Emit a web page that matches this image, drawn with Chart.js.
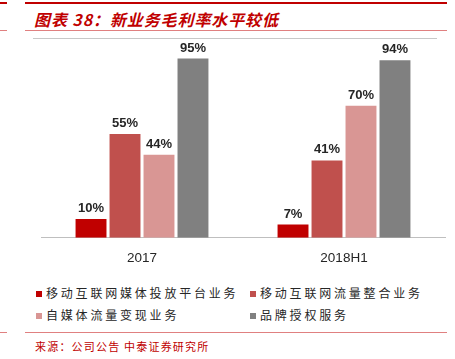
<!DOCTYPE html>
<html><head><meta charset="utf-8">
<script src="https://cdn.jsdelivr.net/npm/chart.js@4/dist/chart.umd.min.js"></script>
<style>
body{margin:0;background:#fff;width:455px;height:359px;overflow:hidden;position:relative;font-family:"Noto Sans CJK SC",sans-serif}
.ln{position:absolute}
#title{position:absolute;left:34px;top:7px;color:#C00000;font:italic bold 16px "Noto Sans CJK SC";letter-spacing:0.9px;white-space:nowrap}
#wrap{position:absolute;left:0;top:0;width:455px;height:278px}
#legend{position:absolute;left:36px;top:285px;font-size:12px;color:#262626;letter-spacing:2.8px}
.li{position:absolute;white-space:nowrap;line-height:16px}
.sw{display:inline-block;width:6px;height:6px;margin-right:4px;vertical-align:1px}
#src{position:absolute;left:35px;top:338px;color:#C00000;font-size:11px;letter-spacing:1.2px;white-space:nowrap}
</style></head><body>
<div class="ln" style="left:0;top:2px;width:7px;height:2px;background:#C00000"></div>
<div class="ln" style="left:25px;top:2px;width:422px;height:2px;background:#C00000"></div>
<div id="title">图表 38：新业务毛利率水平较低</div>
<div class="ln" style="left:0;top:30px;width:7px;height:1px;background:#E08080"></div>
<div class="ln" style="left:25px;top:30px;width:422px;height:1px;background:#E08080"></div>
<div class="ln" style="left:33px;top:38px;width:404px;height:1px;background:#C8C8C8"></div>
<div id="wrap"><canvas id="c"></canvas></div>
<div id="legend"></div>
<div class="ln" style="left:0;top:332px;width:7px;height:1px;background:#E08080"></div>
<div class="ln" style="left:25px;top:332px;width:422px;height:1px;background:#E08080"></div>
<div id="src">来源：公司公告 中泰证券研究所</div>
<script>
const categories = ["2017", "2018H1"];
const seriesNames = ["移动互联网媒体投放平台业务", "移动互联网流量整合业务", "自媒体流量变现业务", "品牌授权服务"];
const mediaPlatform = [10, 7];
const trafficIntegration = [55, 41];
const selfMedia = [44, 70];
const brandLicense = [95, 94];
const colors = ["#C00000", "#C0504D", "#D99694", "#808080"];
const seriesValues = [mediaPlatform, trafficIntegration, selfMedia, brandLicense];

const labelPlugin = {
  id: 'labels',
  afterDatasetsDraw(chart) {
    const ctx = chart.ctx;
    ctx.save();
    ctx.font = 'bold 13px "Liberation Sans", Arial, sans-serif';
    ctx.fillStyle = '#262626';
    ctx.textAlign = 'center';
    ctx.textBaseline = 'bottom';
    chart.data.datasets.forEach((ds, i) => {
      chart.getDatasetMeta(i).data.forEach((bar, j) => {
        ctx.fillText(ds.data[j] + '%', bar.x, bar.y - 4);
      });
    });
    ctx.restore();
  }
};

new Chart(document.getElementById('c'), {
  type: 'bar',
  data: {
    labels: categories,
    datasets: seriesValues.map((v, i) => ({
      label: seriesNames[i], data: v, backgroundColor: colors[i],
      categoryPercentage: 0.673, barPercentage: 0.91
    }))
  },
  options: {
    responsive: true, maintainAspectRatio: false, animation: false,
    layout: { padding: { top: 49, left: 41, right: 10, bottom: 0 } },
    plugins: { legend: { display: false }, tooltip: { enabled: false } },
    scales: {
      x: {
        grid: { display: false, drawTicks: false },
        border: { display: true, color: '#BFBFBF', width: 1 },
        ticks: { color: '#262626', font: { size: 13.5, family: '"Liberation Sans", Arial' }, padding: 12 }
      },
      y: { display: false, min: 0, max: 100 }
    }
  },
  plugins: [labelPlugin]
});

const lg = document.getElementById('legend');
const pos = [[0,0],[214,0],[0,22],[214,22]];
seriesNames.forEach((n, i) => {
  const d = document.createElement('div');
  d.className = 'li';
  d.style.left = pos[i][0] + 'px'; d.style.top = pos[i][1] + 'px';
  d.innerHTML = '<span class="sw" style="background:' + colors[i] + '"></span>' + n;
  lg.appendChild(d);
});
</script>
</body></html>
